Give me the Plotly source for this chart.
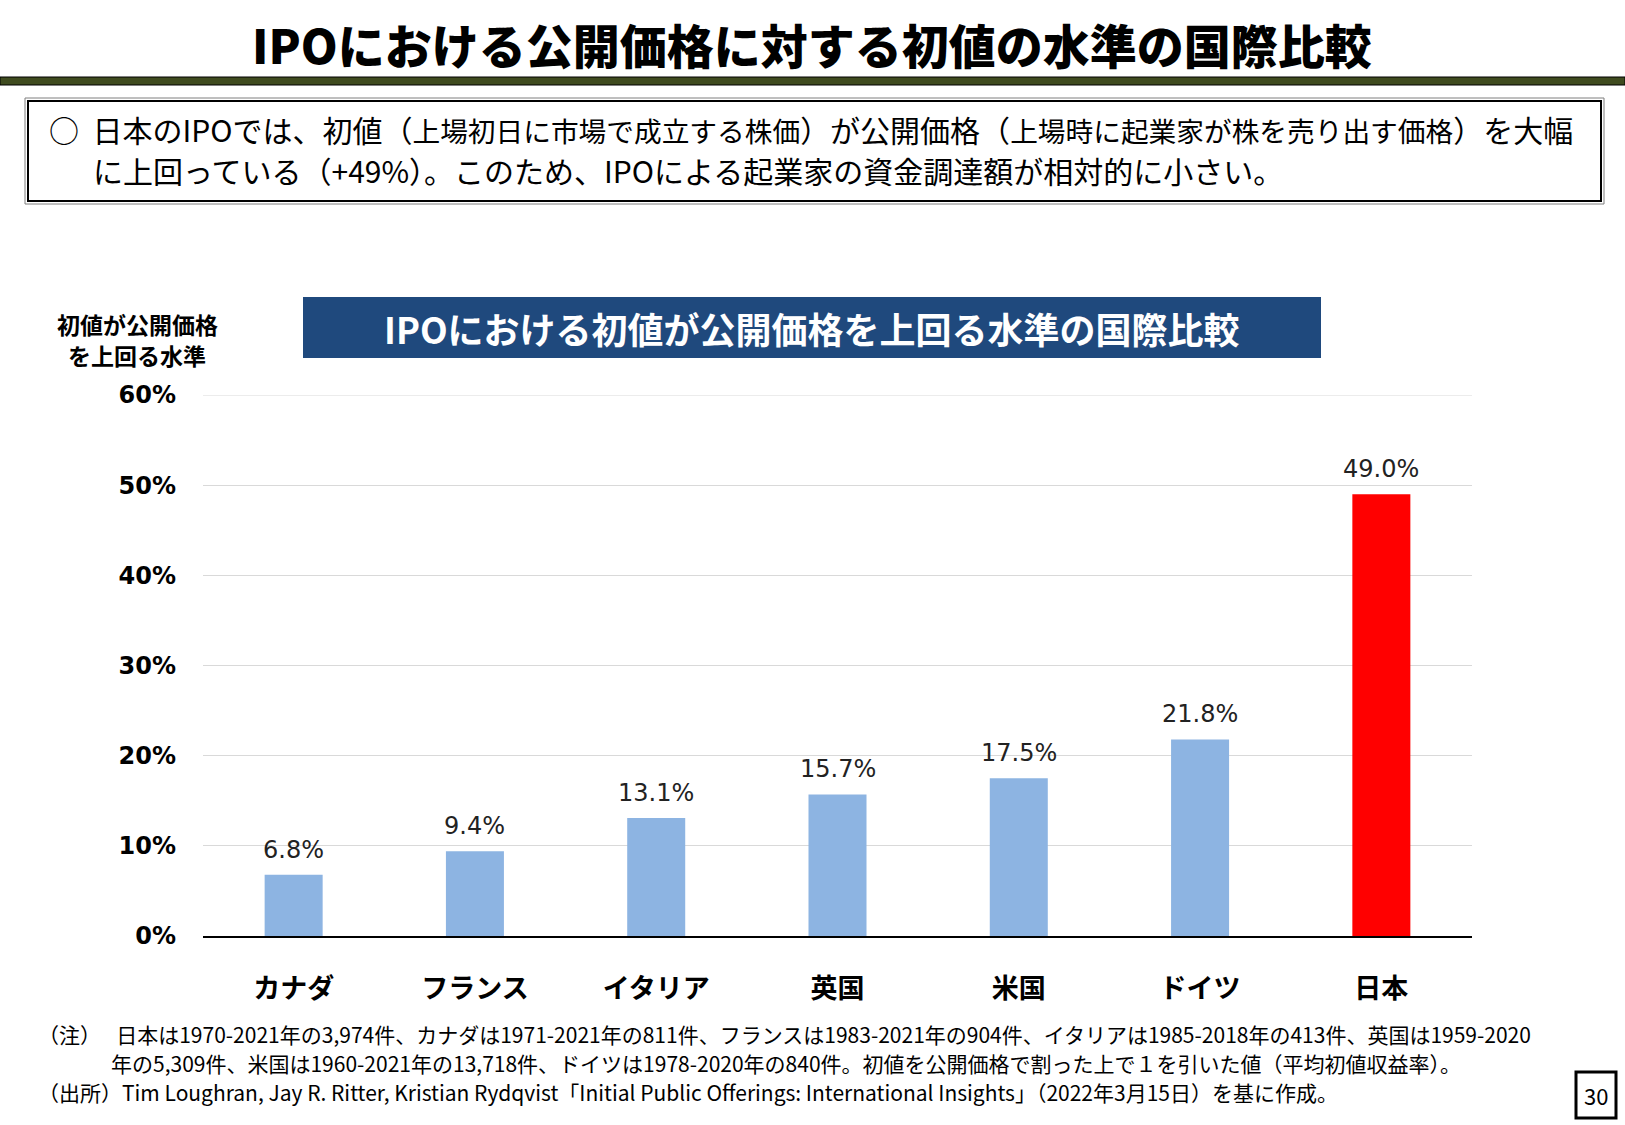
import plotly.graph_objects as go

# ---- data ----
countries = ["カナダ", "フランス", "イタリア", "英国", "米国", "ドイツ", "日本"]
first_day_return = [0.068, 0.094, 0.131, 0.157, 0.175, 0.218, 0.490]
bar_colors = ["#8DB4E2"] * 6 + ["#FF0000"]
y_ticks = [0, 0.1, 0.2, 0.3, 0.4, 0.5, 0.6]

title_text = "IPOにおける公開価格に対する初値の水準の国際比較"
chart_title = "IPOにおける初値が公開価格を上回る水準の国際比較"
y_title_lines = ["初値が公開価格", "を上回る水準"]
note_lines = [
    "（注）　 日本は1970-2021年の3,974件、カナダは1971-2021年の811件、フランスは1983-2021年の904件、イタリアは1985-2018年の413件、英国は1959-2020",
    "年の5,309件、米国は1960-2021年の13,718件、ドイツは1978-2020年の840件。初値を公開価格で割った上で１を引いた値（平均初値収益率）。",
    "（出所）Tim Loughran, Jay R. Ritter, Kristian Rydqvist「Initial Public Offerings: International Insights」（2022年3月15日）を基に作成。",
]
page_no = "30"

FONT = "Noto Sans CJK JP"
LATIN = "DejaVu Sans"
WIDTH, HEIGHT = 1625, 1125
L, R, T, B = 203, 153, 395, 189
PW = WIDTH - L - R
PH = HEIGHT - T - B


def fx(x):
    return (x - L) / PW


def fy(y):
    return (HEIGHT - B - y) / PH


fig = go.Figure()
fig.add_trace(go.Bar(
    x=countries, y=first_day_return,
    marker=dict(color=bar_colors, line=dict(width=0)),
    hoverinfo="skip",
))

annotations = []
# data labels
for c, v in zip(countries, first_day_return):
    annotations.append(dict(
        x=c, y=v, xref="x", yref="y", text=f"{v*100:.1f}%",
        showarrow=False, yanchor="bottom", yshift=9,
        font=dict(family=LATIN, size=24, color="#222222"),
    ))

# main title
annotations.append(dict(
    x=fx(812), y=fy(43), xref="paper", yref="paper", text=title_text,
    showarrow=False, xanchor="center", yanchor="middle",
    font=dict(family=FONT, size=47, color="#000000", weight=900),
))

# header text
small = '<span style="font-size:27.7px">'
header1 = ("○  日本のIPOでは、初値（" + small + "上場初日に市場で成立する株価</span>）が公開価格（"
           + small + "上場時に起業家が株を売り出す価格</span>）を大幅")
header2 = "に上回っている（+49%）。このため、IPOによる起業家の資金調達額が相対的に小さい。"
annotations.append(dict(
    x=fx(47), y=fy(129), xref="paper", yref="paper", text=header1,
    showarrow=False, xanchor="left", yanchor="middle",
    font=dict(family=FONT, size=30, color="#000000"),
))
annotations.append(dict(
    x=fx(91), y=fy(170), xref="paper", yref="paper", text=header2,
    showarrow=False, xanchor="left", yanchor="middle",
    font=dict(family=FONT, size=30, color="#000000"),
))

# y axis title
for i, t in enumerate(y_title_lines):
    annotations.append(dict(
        x=fx(137), y=fy(324 + 31 * i), xref="paper", yref="paper", text=t,
        showarrow=False, xanchor="center", yanchor="middle",
        font=dict(family=FONT, size=23, color="#000000", weight="bold"),
    ))

# chart title
annotations.append(dict(
    x=fx(812), y=fy(328), xref="paper", yref="paper", text=chart_title,
    showarrow=False, xanchor="center", yanchor="middle",
    font=dict(family=FONT, size=36, color="#FFFFFF", weight="bold"),
))

# notes
note_pos = [(36, 1034), (109, 1063), (36, 1092)]
for (nx, ny), t in zip(note_pos, note_lines):
    annotations.append(dict(
        x=fx(nx), y=fy(ny), xref="paper", yref="paper", text=t,
        showarrow=False, xanchor="left", yanchor="middle",
        font=dict(family=FONT, size=21, color="#000000"),
    ))

# page number
annotations.append(dict(
    x=fx(1596), y=fy(1095), xref="paper", yref="paper", text=page_no,
    showarrow=False, xanchor="center", yanchor="middle",
    font=dict(family=FONT, size=22, color="#000000"),
))

shapes = [
    # top gridline (60%)
    dict(type="line", xref="paper", yref="y", x0=0, x1=1, y0=y_ticks[-1], y1=y_ticks[-1],
         line=dict(color="#D9D9D9", width=1), layer="below"),
    # olive band
    dict(type="rect", xref="paper", yref="paper", x0=fx(0), x1=fx(WIDTH), y0=fy(77), y1=fy(85),
         fillcolor="#3F4B1F", line=dict(color="#000000", width=1), layer="above"),
    # header box (double border)
    dict(type="rect", xref="paper", yref="paper", x0=fx(25), x1=fx(1604), y0=fy(98), y1=fy(204),
         line=dict(color="#7F7F7F", width=1), fillcolor="rgba(0,0,0,0)"),
    dict(type="rect", xref="paper", yref="paper", x0=fx(28), x1=fx(1601), y0=fy(101), y1=fy(201),
         line=dict(color="#000000", width=2), fillcolor="rgba(0,0,0,0)"),
    # chart title box
    dict(type="rect", xref="paper", yref="paper", x0=fx(303), x1=fx(1321), y0=fy(297), y1=fy(358),
         line=dict(width=0), fillcolor="#1F497D", layer="below"),
    # page box
    dict(type="rect", xref="paper", yref="paper", x0=fx(1576), x1=fx(1616), y0=fy(1072), y1=fy(1118),
         line=dict(color="#000000", width=3), fillcolor="rgba(0,0,0,0)"),
]

fig.update_layout(
    width=WIDTH, height=HEIGHT,
    margin=dict(l=L, r=R, t=T, b=B, pad=0),
    paper_bgcolor="#FFFFFF", plot_bgcolor="#FFFFFF",
    showlegend=False,
    bargap=0.68,
    annotations=annotations,
    shapes=shapes,
    font=dict(family=FONT),
)
fig.update_xaxes(
    showgrid=False, showline=True, linecolor="#000000", linewidth=2,
    ticks="", ticklabelstandoff=28,
    tickfont=dict(family=FONT, size=27, color="#000000", weight="bold"),
)
fig.update_yaxes(
    range=[0, 0.6], tickvals=y_ticks, tickformat=".0%",
    showgrid=True, gridcolor="#D9D9D9", gridwidth=1,
    zeroline=False, showline=False, ticks="", ticklabelstandoff=26,
    tickfont=dict(family=LATIN, size=24, color="#000000", weight="bold"),
)

fig.write_html("out.html")
